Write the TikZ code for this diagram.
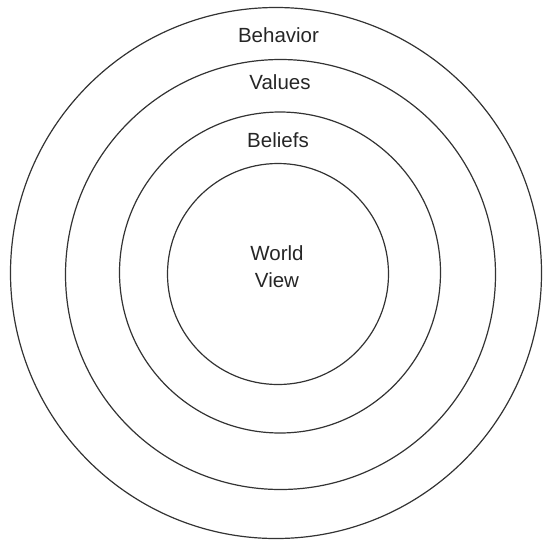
\documentclass[tikz,border=0pt]{standalone}
\usepackage{fontspec}
\setmainfont{Liberation Sans}
\begin{document}
\begin{tikzpicture}[x=1pt,y=-1pt,
  ring/.style={draw=black!80,line width=1.2pt,circle,minimum size=#1,inner sep=0pt},
  lbl/.style={text=black!85,font=\fontsize{20.5}{27}\selectfont,align=center,inner sep=0pt}]
\useasboundingbox (0,0) rectangle (543,539);
\node[ring=531pt] (outer) at (276,273) {};
\node[ring=430pt] (second) at (280.5,274.5) {};
\node[ring=321pt] (third) at (280,272.5) {};
\node[ring=221pt] (inner) at (278,274) {};
\node[lbl] (behavior) at (278.5,35) {Behavior};
\node[lbl] (values) at (280,82) {Values};
\node[lbl] (beliefs) at (278,140) {Beliefs};
\node[lbl] (world) at (277,266.5) {World\\View};
\end{tikzpicture}
\end{document}
